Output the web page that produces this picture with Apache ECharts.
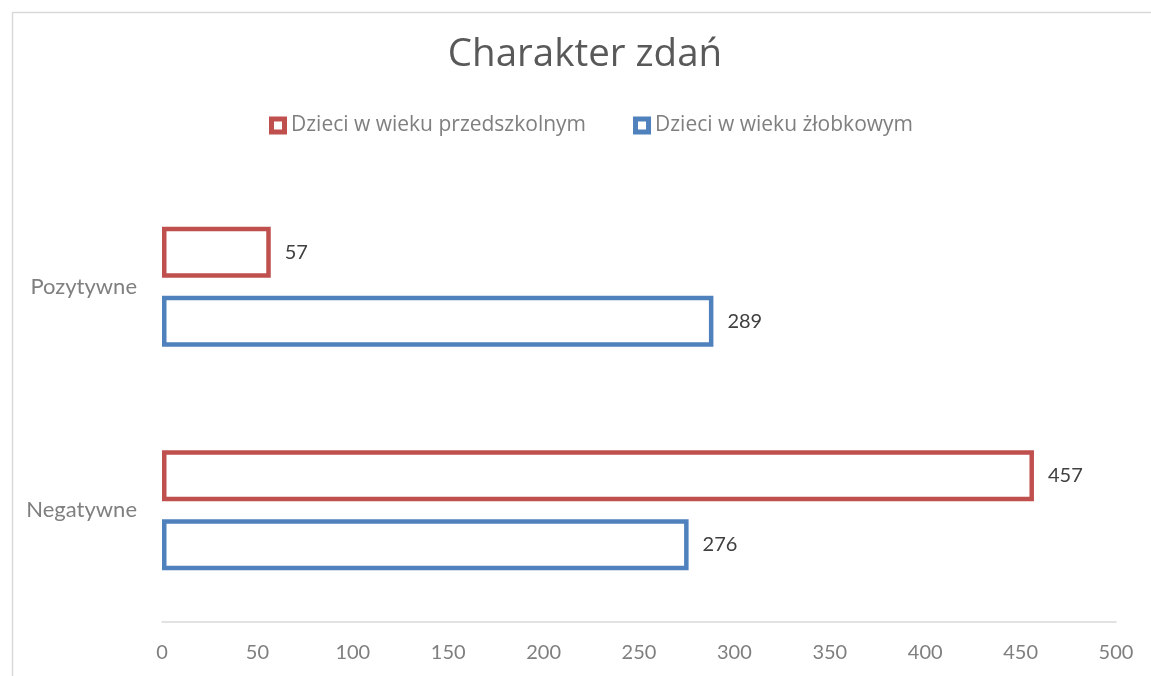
<!DOCTYPE html>
<html>
<head>
<meta charset="utf-8">
<script src="https://cdn.jsdelivr.net/npm/echarts@6/dist/echarts.min.js"></script>
<style>
html, body { margin: 0; padding: 0; overflow: hidden; background: #fff; width: 1151px; height: 676px; }
#chart { width: 1170px; height: 700px; position: absolute; left: 0; top: 0; }
</style>
</head>
<body>
<div id="chart"></div>
<script>
var categories = ['Pozytywne', 'Negatywne'];
var seriesNames = ['Dzieci w wieku przedszkolnym', 'Dzieci w wieku żłobkowym'];
var preschool = [57, 457];
var nursery = [289, 276];
var xTicks = { min: 0, max: 500, interval: 50 };

var colors = ['#C0504D', '#4F81BD'];
var FONT = 'Lato';
var HOLLOW = 'path://M0,0H18V18H0Z M5,5V13H13V5Z';
var chart = echarts.init(document.getElementById('chart'), null, { renderer: 'canvas' });
var option = {
  backgroundColor: '#ffffff',
  animation: false,
  textStyle: { fontFamily: FONT },
  graphic: [{
    type: 'rect', left: 10, top: 10, z: -10,
    shape: { width: 1150, height: 690 },
    style: { fill: 'none', stroke: '#d9d9d9', lineWidth: 1.5 }
  }],
  title: {
    text: 'Charakter zdań', left: 'center', top: 31,
    textStyle: { fontFamily: 'Open Sans', fontSize: 38.5, fontWeight: 'normal', color: '#595959' }
  },
  legend: {
    top: 115, left: 269, padding: 0, itemWidth: 18, itemHeight: 18, itemGap: 47,
    data: [
      { name: seriesNames[0], icon: HOLLOW, itemStyle: { color: colors[0], borderWidth: 0 } },
      { name: seriesNames[1], icon: HOLLOW, itemStyle: { color: colors[1], borderWidth: 0 } }
    ],
    textStyle: { fontFamily: 'Open Sans', fontSize: 21, color: '#7f7f7f', padding: [0, 0, 0, -1] }
  },
  grid: { left: 162, right: 54, top: 175, bottom: 78, containLabel: false },
  xAxis: {
    type: 'value', min: xTicks.min, max: xTicks.max, interval: xTicks.interval,
    axisLine: { show: true, lineStyle: { color: '#d9d9d9', width: 1.5 } },
    axisTick: { show: false },
    splitLine: { show: false },
    axisLabel: { margin: 21, fontFamily: FONT, fontSize: 20, color: '#7f7f7f' }
  },
  yAxis: {
    type: 'category', data: categories, inverse: true,
    axisLine: { show: false }, axisTick: { show: false },
    axisLabel: { margin: 25, fontFamily: FONT, fontSize: 22, color: '#7f7f7f' }
  },
  series: [{
    name: seriesNames[0], type: 'bar', data: preschool,
    barWidth: 51, barGap: '35%',
    itemStyle: { color: '#ffffff', borderColor: colors[0], borderWidth: 4.5 },
    label: { show: true, position: 'right', distance: 14, fontFamily: FONT, fontSize: 20, color: '#404040' }
  }, {
    name: seriesNames[1], type: 'bar', data: nursery,
    barWidth: 51, barGap: '35%',
    itemStyle: { color: '#ffffff', borderColor: colors[1], borderWidth: 4.5 },
    label: { show: true, position: 'right', distance: 14, fontFamily: FONT, fontSize: 20, color: '#404040' }
  }]
};
chart.setOption(option);
</script>
</body>
</html>
